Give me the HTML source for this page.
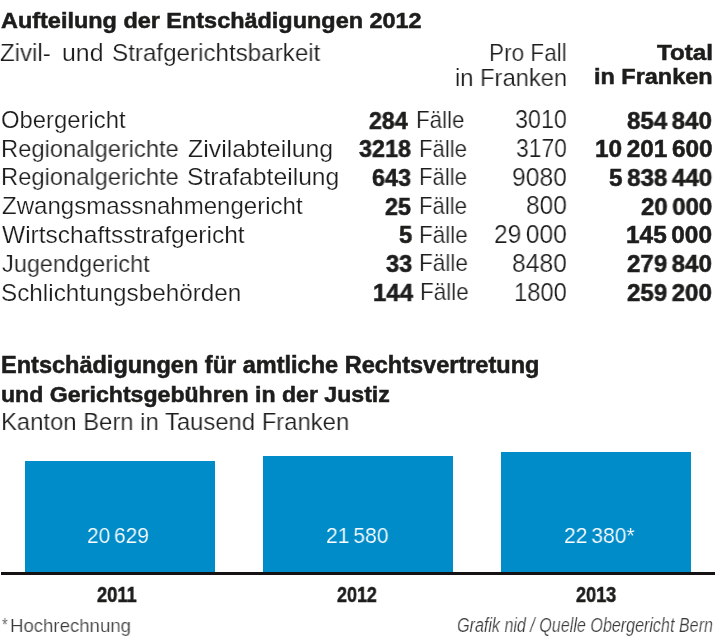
<!DOCTYPE html>
<html><head><meta charset="utf-8"><title>Entschädigungen</title>
<style>
html,body{margin:0;padding:0;background:#fff;}
body{width:715px;height:641px;position:relative;overflow:hidden;font-family:"Liberation Sans",sans-serif;color:#1d1d1b;}
.t{position:absolute;white-space:pre;transform-origin:0 0;will-change:transform;}
.th{-webkit-text-stroke:0.2px #fff;}
.tw{-webkit-text-stroke:0.15px #008bc9;}
.b{font-weight:bold;-webkit-text-stroke:0.55px #1d1d1b;}
.bar{position:absolute;background:#008bc9;}
.axis{position:absolute;left:1px;top:572.2px;width:714px;height:2.7px;background:#161213;}
</style></head><body>
<div class="bar" style="left:25px;top:460.6px;width:190.2px;height:112px;"></div>
<div class="bar" style="left:263.2px;top:455.9px;width:190.1px;height:117px;"></div>
<div class="bar" style="left:501px;top:451.5px;width:190.4px;height:121px;"></div>
<div class="axis"></div>
<div class="t b" style="left:0.80px;top:7.86px;font-size:22.7px;line-height:25.356px;transform:scaleX(1.0331);">Aufteilung der Entschädigungen 2012</div>
<div class="t th" style="left:0.30px;top:38.74px;font-size:24.6px;line-height:27.478px;transform:scaleX(0.9785);">Zivil-</div>
<div class="t th" style="left:61.89px;top:38.74px;font-size:24.6px;line-height:27.478px;transform:scaleX(1.0113);">und</div>
<div class="t th" style="left:111.52px;top:38.74px;font-size:24.6px;line-height:27.478px;transform:scaleX(0.9832);">Strafgerichtsbarkeit</div>
<div class="t th" style="left:489.07px;top:39.10px;font-size:24.2px;line-height:27.031px;transform:scaleX(0.9326);">Pro Fall</div>
<div class="t th" style="left:454.72px;top:63.90px;font-size:24.2px;line-height:27.031px;transform:scaleX(0.9819);">in Franken</div>
<div class="t b" style="left:657.20px;top:40.26px;font-size:22.7px;line-height:25.356px;transform:scaleX(1.0644);">Total</div>
<div class="t b" style="left:593.97px;top:64.36px;font-size:22.7px;line-height:25.356px;transform:scaleX(1.0340);">in Franken</div>
<div class="t th" style="left:1.00px;top:106.86px;font-size:23.8px;line-height:26.585px;transform:scaleX(1.0023);">Obergericht</div>
<div class="t b" style="left:369.00px;top:106.52px;font-size:24.4px;line-height:27.255px;transform:scaleX(0.9482);">284</div>
<div class="t th" style="left:416.26px;top:106.86px;font-size:23.8px;line-height:26.585px;transform:scaleX(0.9415);">Fälle</div>
<div class="t th" style="left:515.20px;top:105.37px;font-size:26.0px;line-height:29.042px;transform:scaleX(0.8958);">3010</div>
<div class="t b" style="left:627.40px;top:106.52px;font-size:24.4px;line-height:27.255px;transform:scaleX(0.9871);word-spacing:-2.20px;">854 840</div>
<div class="t th" style="left:1.00px;top:135.66px;font-size:23.8px;line-height:26.585px;transform:scaleX(0.9957);">Regionalgerichte</div>
<div class="t th" style="left:187.60px;top:135.66px;font-size:23.8px;line-height:26.585px;transform:scaleX(1.0454);">Zivilabteilung</div>
<div class="t b" style="left:359.00px;top:135.22px;font-size:24.4px;line-height:27.255px;transform:scaleX(0.9573);">3218</div>
<div class="t th" style="left:419.27px;top:135.56px;font-size:23.8px;line-height:26.585px;transform:scaleX(0.9316);">Fälle</div>
<div class="t th" style="left:516.20px;top:134.07px;font-size:26.0px;line-height:29.042px;transform:scaleX(0.8784);">3170</div>
<div class="t b" style="left:594.70px;top:135.22px;font-size:24.4px;line-height:27.255px;transform:scaleX(0.9990);word-spacing:-2.20px;">10 201 600</div>
<div class="t th" style="left:1.00px;top:164.46px;font-size:23.8px;line-height:26.585px;transform:scaleX(0.9957);">Regionalgerichte</div>
<div class="t th" style="left:187.16px;top:164.46px;font-size:23.8px;line-height:26.585px;transform:scaleX(1.0372);">Strafabteilung</div>
<div class="t b" style="left:372.00px;top:163.92px;font-size:24.4px;line-height:27.255px;transform:scaleX(0.9569);">643</div>
<div class="t th" style="left:419.27px;top:164.26px;font-size:23.8px;line-height:26.585px;transform:scaleX(0.9316);">Fälle</div>
<div class="t th" style="left:512.25px;top:162.77px;font-size:26.0px;line-height:29.042px;transform:scaleX(0.9471);">9080</div>
<div class="t b" style="left:609.00px;top:163.92px;font-size:24.4px;line-height:27.255px;transform:scaleX(0.9918);word-spacing:-2.20px;">5 838 440</div>
<div class="t th" style="left:2.00px;top:193.26px;font-size:23.8px;line-height:26.585px;transform:scaleX(1.0101);">Zwangsmassnahmengericht</div>
<div class="t b" style="left:385.00px;top:192.62px;font-size:24.4px;line-height:27.255px;transform:scaleX(0.9561);">25</div>
<div class="t th" style="left:419.27px;top:192.96px;font-size:23.8px;line-height:26.585px;transform:scaleX(0.9316);">Fälle</div>
<div class="t th" style="left:526.26px;top:191.47px;font-size:26.0px;line-height:29.042px;transform:scaleX(0.9399);">800</div>
<div class="t b" style="left:641.00px;top:192.62px;font-size:24.4px;line-height:27.255px;transform:scaleX(0.9841);word-spacing:-2.20px;">20 000</div>
<div class="t th" style="left:2.00px;top:222.06px;font-size:23.8px;line-height:26.585px;transform:scaleX(1.0307);">Wirtschaftsstrafgericht</div>
<div class="t b" style="left:399.30px;top:221.32px;font-size:24.4px;line-height:27.255px;transform:scaleX(0.9769);">5</div>
<div class="t th" style="left:419.05px;top:221.66px;font-size:23.8px;line-height:26.585px;transform:scaleX(0.9455);">Fälle</div>
<div class="t th" style="left:494.26px;top:220.17px;font-size:26.0px;line-height:29.042px;transform:scaleX(0.9429);word-spacing:-2.34px;">29 000</div>
<div class="t b" style="left:626.40px;top:221.32px;font-size:24.4px;line-height:27.255px;transform:scaleX(0.9988);word-spacing:-2.20px;">145 000</div>
<div class="t th" style="left:2.00px;top:250.86px;font-size:23.8px;line-height:26.585px;transform:scaleX(0.9874);">Jugendgericht</div>
<div class="t b" style="left:386.30px;top:250.02px;font-size:24.4px;line-height:27.255px;transform:scaleX(0.9674);">33</div>
<div class="t th" style="left:419.05px;top:250.36px;font-size:23.8px;line-height:26.585px;transform:scaleX(0.9495);">Fälle</div>
<div class="t th" style="left:512.25px;top:248.87px;font-size:26.0px;line-height:29.042px;transform:scaleX(0.9471);">8480</div>
<div class="t b" style="left:627.40px;top:250.02px;font-size:24.4px;line-height:27.255px;transform:scaleX(0.9871);word-spacing:-2.20px;">279 840</div>
<div class="t th" style="left:0.98px;top:279.66px;font-size:23.8px;line-height:26.585px;transform:scaleX(1.0203);">Schlichtungsbehörden</div>
<div class="t b" style="left:372.52px;top:278.72px;font-size:24.4px;line-height:27.255px;transform:scaleX(0.9843);">144</div>
<div class="t th" style="left:420.45px;top:279.06px;font-size:23.8px;line-height:26.585px;transform:scaleX(0.9455);">Fälle</div>
<div class="t th" style="left:514.29px;top:277.57px;font-size:26.0px;line-height:29.042px;transform:scaleX(0.9117);">1800</div>
<div class="t b" style="left:627.40px;top:278.72px;font-size:24.4px;line-height:27.255px;transform:scaleX(0.9871);word-spacing:-2.20px;">259 200</div>
<div class="t b" style="left:1.48px;top:352.88px;font-size:23.0px;line-height:25.691px;transform:scaleX(1.0225);">Entschädigungen für amtliche Rechtsvertretung</div>
<div class="t b" style="left:0.59px;top:381.77px;font-size:22.8px;line-height:25.468px;transform:scaleX(1.0131);">und Gerichtsgebühren in der Justiz</div>
<div class="t th" style="left:1.05px;top:408.13px;font-size:24.5px;line-height:27.366px;transform:scaleX(0.9731);">Kanton Bern in Tausend Franken</div>
<div class="t tw" style="left:86.55px;top:523.69px;font-size:22px;line-height:24.574px;transform:scaleX(0.9489);color:#fff;word-spacing:-1.98px;">20 629</div>
<div class="t tw" style="left:326.34px;top:523.69px;font-size:22px;line-height:24.574px;transform:scaleX(0.9583);color:#fff;word-spacing:-1.98px;">21 580</div>
<div class="t tw" style="left:564.24px;top:523.69px;font-size:22px;line-height:24.574px;transform:scaleX(0.9576);color:#fff;word-spacing:-1.98px;">22 380*</div>
<div class="t b" style="left:97.40px;top:582.54px;font-size:21.5px;line-height:24.015px;transform:scaleX(0.8504);">2011</div>
<div class="t b" style="left:337.00px;top:582.54px;font-size:21.5px;line-height:24.015px;transform:scaleX(0.8356);">2012</div>
<div class="t b" style="left:576.40px;top:582.54px;font-size:21.5px;line-height:24.015px;transform:scaleX(0.8418);">2013</div>
<div class="t th" style="left:1.60px;top:615.76px;font-size:17.5px;line-height:19.547px;transform:scaleX(0.8429);color:#3a3a39;">*</div>
<div class="t th" style="left:10.42px;top:615.30px;font-size:19.0px;line-height:21.223px;transform:scaleX(0.9786);color:#3a3a39;">Hochrechnung</div>
<div class="t th" style="left:457.00px;top:615.05px;font-size:19.5px;line-height:21.782px;transform:scaleX(0.8256);font-style:italic;color:#3a3a39;">Grafik nid / Quelle Obergericht Bern</div>
</body></html>
